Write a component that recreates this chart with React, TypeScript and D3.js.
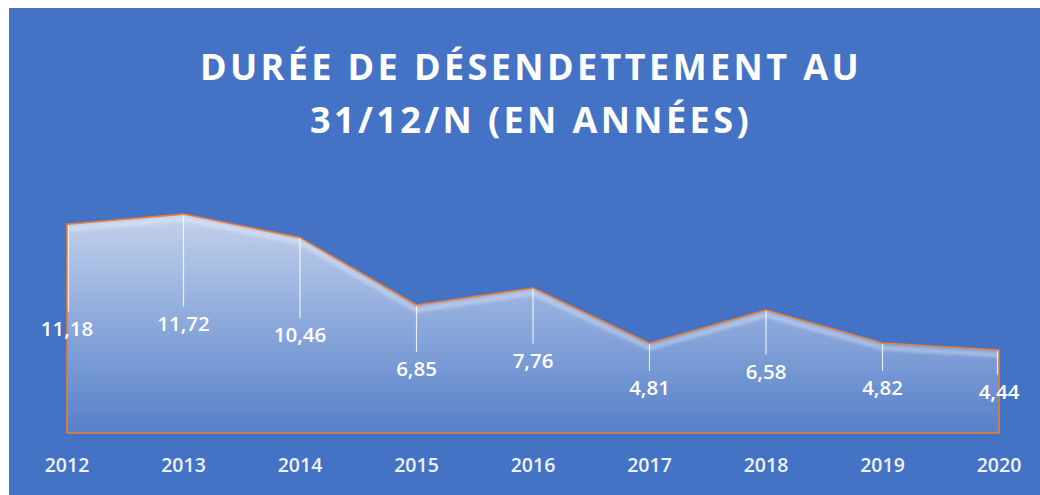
import { useEffect, useRef } from "react";
import * as d3 from "d3";

const years = ["2012", "2013", "2014", "2015", "2016", "2017", "2018", "2019", "2020"];
const values = [11.18, 11.72, 10.46, 6.85, 7.76, 4.81, 6.58, 4.82, 4.44];
const labels = ["11,18", "11,72", "10,46", "6,85", "7,76", "4,81", "6,58", "4,82", "4,44"];
const titleLines = ["DURÉE DE DÉSENDETTEMENT AU", "31/12/N (EN ANNÉES)"];

export default function App() {
  const svgRef = useRef<SVGSVGElement>(null);
  const W = 1040, H = 495;

  useEffect(() => {
    if (!svgRef.current) return;
    const svg = d3.select(svgRef.current);
    svg.selectAll("*").remove();

    const font = "'Open Sans', sans-serif";
    const x = d3.scalePoint<string>().domain(years).range([67, 999]);
    const y = d3.scaleLinear().domain([0, 14]).range([433, 171.5]);

    /* background */
    svg.append("rect").attr("x", 9).attr("y", 8).attr("width", W - 9).attr("height", H - 8)
      .attr("fill", "#4472C4");

    const defs = svg.append("defs");
    const grad = defs.append("linearGradient").attr("id", "areaGrad")
      .attr("gradientUnits", "userSpaceOnUse")
      .attr("x1", 0).attr("x2", 0).attr("y1", y(11.72)).attr("y2", y(0));
    grad.append("stop").attr("offset", "0%").attr("stop-color", "#ffffff").attr("stop-opacity", 0.68);
    grad.append("stop").attr("offset", "100%").attr("stop-color", "#ffffff").attr("stop-opacity", 0.1);
    defs.append("filter").attr("id", "blur")
      .append("feGaussianBlur").attr("stdDeviation", 1.5);

    /* title */
    svg.append("text")
      .attr("x", 530).attr("text-anchor", "middle")
      .attr("font-family", font).attr("font-weight", 700).attr("font-size", 36)
      .attr("letter-spacing", 3.4).attr("fill", "#ffffff")
      .selectAll("tspan").data(titleLines).enter().append("tspan")
      .attr("x", 531).attr("y", (_d, i) => 80 + i * 53).text(d => d);

    const idx = d3.range(values.length);
    const area = d3.area<number>()
      .x(i => x(years[i]) as number).y0(y(0)).y1(i => y(values[i]));
    const line = d3.line<number>()
      .x(i => x(years[i]) as number).y(i => y(values[i]));

    svg.append("path").attr("d", area(idx) ?? "").attr("fill", "url(#areaGrad)");

    /* soft highlight under top edge */
    svg.append("path").attr("d", line(idx) ?? "")
      .attr("transform", "translate(0,5)")
      .attr("fill", "none").attr("stroke", "#ffffff").attr("stroke-width", 5)
      .attr("opacity", 0.3).attr("filter", "url(#blur)");

    svg.append("path").attr("d", area(idx) ?? "")
      .attr("fill", "none").attr("stroke", "#ED7D31").attr("stroke-width", 1.6)
      .attr("stroke-linejoin", "round");

    /* leader lines */
    svg.append("g").selectAll("line").data(idx).enter().append("line")
      .attr("x1", i => (x(years[i]) as number) + (i === 0 ? 1.5 : i === values.length - 1 ? -1.5 : 0))
      .attr("x2", i => (x(years[i]) as number) + (i === 0 ? 1.5 : i === values.length - 1 ? -1.5 : 0))
      .attr("y1", i => y(values[i]) + 1)
      .attr("y2", i => y(values[i] / 2) - 17)
      .attr("stroke", "#ffffff").attr("stroke-width", 1.2).attr("opacity", 0.8);

    /* data labels */
    svg.append("g").selectAll("text").data(idx).enter().append("text")
      .attr("x", i => x(years[i]) as number)
      .attr("y", i => y(values[i] / 2) + 7)
      .attr("text-anchor", "middle")
      .attr("font-family", font).attr("font-weight", 600).attr("font-size", 20.5).attr("fill", "#ffffff")
      .text(i => labels[i]);

    /* x axis labels */
    svg.append("g").selectAll("text").data(years).enter().append("text")
      .attr("x", d => x(d) as number).attr("y", 472)
      .attr("text-anchor", "middle")
      .attr("font-family", font).attr("font-weight", 600).attr("font-size", 19.5).attr("fill", "#EEF2FA")
      .text(d => d);
  }, []);

  return (
    <svg ref={svgRef} width={W} height={H}
      style={{ position: "absolute", left: 0, top: 0, display: "block" }} />
  );
}
